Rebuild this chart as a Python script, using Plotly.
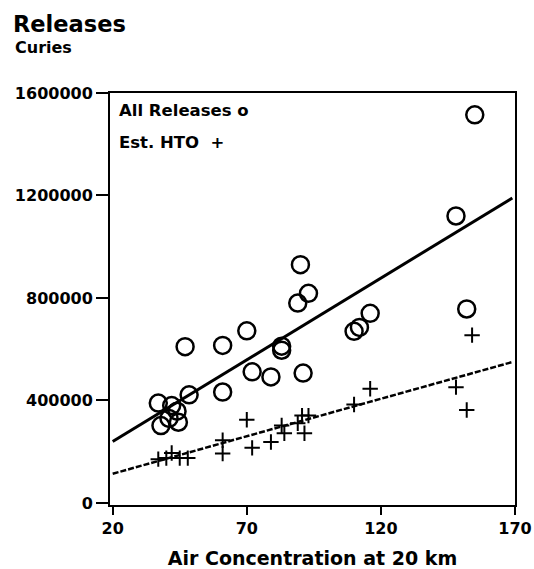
import plotly.graph_objects as go

# All releases (open circles)
all_x = [37, 38, 41, 42, 44, 44.5, 48.5, 47, 61, 61, 70, 72, 79, 83, 83,
         89, 90, 93, 91, 110, 112, 116, 148, 152, 155]
all_y = [390000, 302000, 330000, 380000, 358000, 315000, 422000, 610000,
         615000, 433000, 672000, 512000, 492000, 612000, 596000, 780000,
         930000, 818000, 507000, 670000, 685000, 740000, 1120000, 757000,
         1515000]

# Estimated HTO (plus signs)
hto_x = [37, 40, 42, 45, 48, 61, 61, 70, 72, 79, 83, 84, 89, 90.6, 93,
         91.5, 110, 116, 148, 152, 154]
hto_y = [171000, 175000, 195000, 175000, 175000, 245000, 193000, 325000,
         215000, 238000, 302000, 272000, 311000, 341000, 341000, 272000,
         384000, 446000, 452000, 363000, 655000]

# Fitted lines
fit_x = [20, 169]
all_fit = [240000, 1190000]
hto_fit = [114000, 550000]

x_ticks = [20, 70, 120, 170]
y_ticks = [0, 400000, 800000, 1200000, 1600000]

FONT = "DejaVu Sans"

W, H = 534, 569
L, R, T, B = 110, 19, 93, 64
PW, PH = W - L - R, H - T - B


def px(xp):  # page x -> paper x
    return (xp - L) / PW


def py(yp):  # page y -> paper y
    return (H - B - yp) / PH


fig = go.Figure()
fig.add_trace(go.Scatter(x=fit_x, y=all_fit, mode="lines",
                         line=dict(color="black", width=3), hoverinfo="skip"))
fig.add_trace(go.Scatter(x=fit_x, y=hto_fit, mode="lines",
                         line=dict(color="black", width=2.5, dash="6px,2px"),
                         hoverinfo="skip"))
fig.add_trace(go.Scatter(x=all_x, y=all_y, mode="markers", name="All Releases",
                         marker=dict(symbol="circle-open", size=17, color="black",
                                     line=dict(width=2.5, color="black"))))
fig.add_trace(go.Scatter(x=hto_x, y=hto_y, mode="markers", name="Est. HTO",
                         marker=dict(symbol="cross-thin-open", size=11, color="black",
                                     line=dict(width=2, color="black"))))

fig.update_layout(
    width=W, height=H,
    margin=dict(l=L, r=R, t=T, b=B, autoexpand=False),
    paper_bgcolor="white", plot_bgcolor="white",
    showlegend=False,
    font=dict(family=FONT, color="black"),
    title=dict(text="Releases", x=13/W, xanchor="left", xref="container",
               y=1-24/H, yanchor="middle", yref="container",
               font=dict(family=FONT, size=22.5, weight="bold", color="black")),
    xaxis=dict(range=[19, 170], tickmode="array", tickvals=x_ticks,
               ticktext=[str(v) for v in x_ticks], automargin=False,
               showgrid=False, zeroline=False, showline=True, linecolor="black",
               linewidth=2, mirror=True, ticks="outside", ticklen=8, tickwidth=2,
               tickcolor="black",
               tickfont=dict(family=FONT, size=16, weight="bold"),
               title=dict(text="Air Concentration at 20 km", standoff=14,
                          font=dict(family=FONT, size=19, weight="bold"))),
    yaxis=dict(range=[-8000, 1600000], tickmode="array", tickvals=y_ticks,
               ticktext=[str(v) for v in y_ticks], automargin=False,
               showgrid=False, zeroline=False, showline=True, linecolor="black",
               linewidth=2, mirror=True, ticks="outside", ticklen=12, tickwidth=2,
               tickcolor="black",
               tickfont=dict(family=FONT, size=16, weight="bold")),
    annotations=[
        dict(text="Curies", xref="paper", yref="paper", x=px(13),
             y=py(47), xanchor="left", yanchor="middle", showarrow=False,
             font=dict(family=FONT, size=16, weight="bold", color="black")),
        dict(text="All Releases o", xref="paper", yref="paper", x=px(117),
             y=py(110), xanchor="left", yanchor="middle", showarrow=False,
             font=dict(family=FONT, size=16.5, weight="bold", color="black")),
        dict(text="Est. HTO\u00a0\u00a0+", xref="paper", yref="paper", x=px(117),
             y=py(143), xanchor="left", yanchor="middle", showarrow=False,
             font=dict(family=FONT, size=16.5, weight="bold", color="black")),
    ],
)

# remove the browser's default 8px body margin so the figure fills the window
fig.write_html("out.html",
               config={"displayModeBar": False},
               post_script="document.body.style.margin='0';"
                           "document.documentElement.style.overflow='hidden';")
